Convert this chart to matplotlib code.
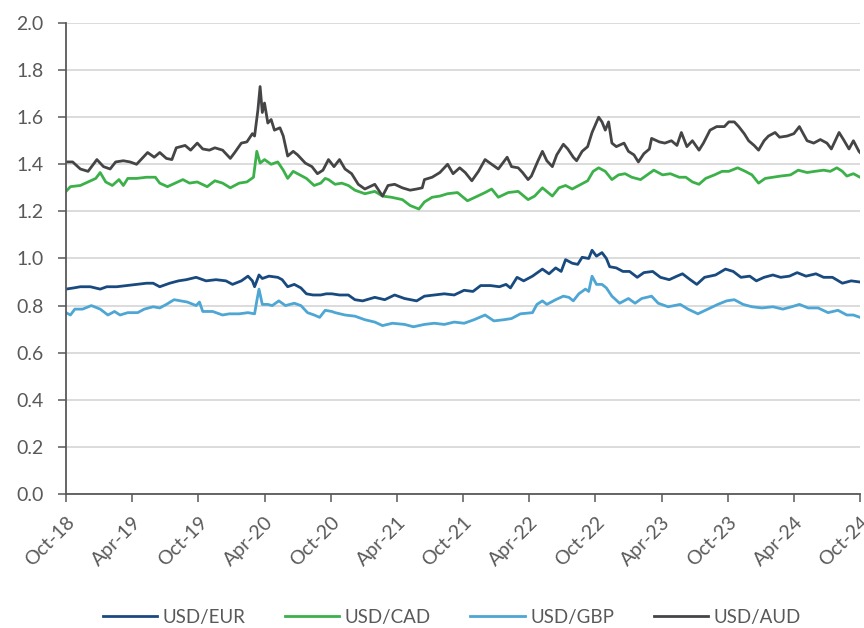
import matplotlib
matplotlib.use("Agg")
import matplotlib.pyplot as plt

plt.rcParams['font.family'] = ['Lato', 'DejaVu Sans']

# x positions: months since Oct-18
tick_labels = ["Oct-18", "Apr-19", "Oct-19", "Apr-20", "Oct-20", "Apr-21", "Oct-21",
               "Apr-22", "Oct-22", "Apr-23", "Oct-23", "Apr-24", "Oct-24"]

eur_t = [0, 0.7, 1.3, 2.2, 3.1, 3.7, 4.6, 5.5, 6.4, 7.3, 7.9, 8.5, 9.4, 10.2, 10.9, 11.8,
         12.7, 13.6, 14.5, 15.1, 15.9, 16.5, 16.9, 17.1, 17.5, 17.8, 18.4, 19.2, 19.6, 20.1,
         20.7, 21.3, 21.8, 22.4, 23.1, 23.6, 24.1, 24.8, 25.6, 26.2, 26.9, 28.0, 28.9, 29.8,
         30.7, 31.8, 32.5, 33.4, 34.3, 35.2, 36.1, 36.9, 37.6, 38.5, 39.3, 39.9, 40.3, 40.9,
         41.5, 42.3, 43.2, 43.8, 44.4, 44.9, 45.3, 45.9, 46.4, 46.8, 47.4, 47.7, 48.1, 48.6,
         49.0, 49.3, 49.9, 50.5, 51.1, 51.8, 52.4, 53.2, 53.9, 54.7, 55.4, 55.9, 56.6, 57.2,
         57.9, 58.9, 59.8, 60.5, 61.2, 62.0, 62.6, 63.3, 64.1, 64.8, 65.6, 66.3, 67.1, 68.0,
         68.7, 69.5, 70.4, 71.2, 72.0]
eur_v = [0.87, 0.875, 0.88, 0.88, 0.87, 0.88, 0.88, 0.885, 0.89, 0.895, 0.895, 0.88, 0.895,
         0.905, 0.91, 0.92, 0.905, 0.91, 0.905, 0.89, 0.905, 0.925, 0.905, 0.88, 0.93, 0.915,
         0.925, 0.92, 0.91, 0.88, 0.89, 0.875, 0.85, 0.845, 0.845, 0.85, 0.85, 0.845, 0.845,
         0.825, 0.82, 0.835, 0.825, 0.845, 0.83, 0.82, 0.84, 0.845, 0.85, 0.845, 0.865, 0.86,
         0.885, 0.885, 0.88, 0.89, 0.875, 0.92, 0.905, 0.925, 0.955, 0.935, 0.96, 0.945, 0.995,
         0.98, 0.975, 1.005, 1.0, 1.035, 1.01, 1.025, 1.0, 0.965, 0.96, 0.945, 0.945, 0.92,
         0.94, 0.945, 0.92, 0.91, 0.925, 0.935, 0.91, 0.89, 0.92, 0.93, 0.955, 0.945, 0.92,
         0.925, 0.905, 0.92, 0.93, 0.92, 0.925, 0.94, 0.925, 0.935, 0.92, 0.92, 0.895, 0.905,
         0.90]

cad_t = [0, 0.4, 1.3, 2.0, 2.7, 3.1, 3.6, 4.2, 4.8, 5.2, 5.6, 6.4, 7.3, 8.1, 8.5, 9.2, 9.9,
         10.6, 11.2, 11.9, 12.8, 13.5, 14.2, 14.9, 15.7, 16.4, 17.0, 17.3, 17.6, 18.0, 18.6,
         19.2, 19.7, 20.1, 20.6, 21.2, 21.8, 22.5, 23.1, 23.5, 23.8, 24.4, 25.0, 25.6, 26.2,
         27.1, 28.0, 28.7, 29.5, 30.5, 31.2, 32.0, 32.5, 33.2, 33.9, 34.6, 35.5, 36.4, 37.1,
         38.0, 38.6, 39.2, 40.1, 41.0, 41.9, 42.5, 43.2, 44.1, 44.7, 45.3, 45.9, 46.7, 47.3,
         47.8, 48.3, 48.9, 49.5, 50.1, 50.7, 51.3, 52.1, 52.7, 53.3, 54.1, 54.8, 55.6, 56.2,
         56.8, 57.4, 58.0, 58.8, 59.5, 60.1, 60.9, 61.6, 62.2, 62.8, 63.4, 64.1, 64.8, 65.7,
         66.4, 67.2, 67.9, 68.7, 69.3, 69.9, 70.4, 70.8, 71.4, 72.0]
cad_v = [1.285, 1.305, 1.31, 1.325, 1.34, 1.365, 1.325, 1.31, 1.335, 1.31, 1.34, 1.34, 1.345,
         1.345, 1.32, 1.305, 1.32, 1.335, 1.32, 1.325, 1.305, 1.33, 1.32, 1.30, 1.32, 1.325,
         1.345, 1.455, 1.405, 1.42, 1.40, 1.41, 1.375, 1.34, 1.37, 1.355, 1.34, 1.31, 1.32,
         1.34, 1.335, 1.315, 1.32, 1.31, 1.29, 1.275, 1.285, 1.265, 1.26, 1.25, 1.225, 1.21,
         1.24, 1.26, 1.265, 1.275, 1.28, 1.245, 1.26, 1.28, 1.295, 1.26, 1.28, 1.285, 1.25,
         1.265, 1.30, 1.265, 1.30, 1.31, 1.295, 1.315, 1.33, 1.37, 1.385, 1.37, 1.335, 1.355,
         1.36, 1.345, 1.335, 1.355, 1.375, 1.355, 1.36, 1.345, 1.345, 1.325, 1.315, 1.34,
         1.355, 1.37, 1.37, 1.385, 1.37, 1.355, 1.32, 1.34, 1.345, 1.35, 1.355, 1.375, 1.365,
         1.37, 1.375, 1.37, 1.385, 1.37, 1.35, 1.36, 1.345]

gbp_t = [0, 0.4, 0.8, 1.5, 2.3, 3.1, 3.8, 4.4, 4.9, 5.6, 6.5, 7.1, 7.9, 8.5, 9.1, 9.8, 10.4,
         11.0, 11.8, 12.1, 12.4, 13.3, 14.2, 14.8, 15.7, 16.5, 17.1, 17.3, 17.5, 17.8, 18.3,
         18.7, 19.3, 19.9, 20.7, 21.3, 21.9, 22.5, 23.0, 23.5, 24.1, 24.4, 25.3, 26.2, 27.1,
         28.0, 28.7, 29.6, 30.7, 31.5, 32.5, 33.4, 34.3, 35.2, 36.1, 37.0, 38.0, 38.8, 39.7,
         40.4, 41.2, 42.3, 42.7, 43.2, 43.6, 44.4, 45.1, 45.6, 46.0, 46.5, 47.1, 47.4, 47.7,
         48.1, 48.6, 49.0, 49.5, 50.2, 51.0, 51.6, 52.2, 53.1, 53.7, 54.6, 55.7, 56.4, 57.3,
         58.2, 59.1, 59.9, 60.6, 61.4, 62.2, 63.1, 64.1, 65.0, 65.8, 66.5, 67.3, 68.2, 69.1,
         70.0, 70.8, 71.4, 72.0]
gbp_v = [0.77, 0.76, 0.785, 0.785, 0.80, 0.785, 0.76, 0.775, 0.76, 0.77, 0.77, 0.785, 0.795,
         0.79, 0.805, 0.825, 0.82, 0.815, 0.80, 0.815, 0.775, 0.775, 0.76, 0.765, 0.765, 0.77,
         0.765, 0.82, 0.87, 0.805, 0.805, 0.80, 0.82, 0.80, 0.81, 0.80, 0.77, 0.76, 0.75, 0.78,
         0.775, 0.77, 0.76, 0.755, 0.74, 0.73, 0.715, 0.725, 0.72, 0.71, 0.72, 0.725, 0.72,
         0.73, 0.725, 0.74, 0.76, 0.735, 0.74, 0.745, 0.765, 0.77, 0.805, 0.82, 0.805, 0.825,
         0.84, 0.835, 0.82, 0.85, 0.87, 0.86, 0.925, 0.89, 0.89, 0.875, 0.84, 0.81, 0.83, 0.81,
         0.83, 0.84, 0.81, 0.795, 0.805, 0.785, 0.765, 0.785, 0.805, 0.82, 0.825, 0.805, 0.795,
         0.79, 0.795, 0.785, 0.795, 0.805, 0.79, 0.79, 0.77, 0.78, 0.76, 0.76, 0.75]

aud_t = [0, 0.6, 1.3, 2.0, 2.8, 3.4, 4.0, 4.5, 5.2, 5.8, 6.4, 6.9, 7.4, 8.0, 8.5, 9.1, 9.6,
         10.0, 10.8, 11.3, 11.9, 12.4, 13.0, 13.5, 14.2, 14.9, 15.3, 15.9, 16.4, 16.9, 17.1,
         17.4, 17.6, 17.8, 18.0, 18.3, 18.6, 18.9, 19.4, 19.7, 20.1, 20.6, 21.0, 21.7, 22.3,
         22.8, 23.3, 23.8, 24.3, 24.8, 25.3, 25.9, 26.5, 27.1, 28.0, 28.7, 29.2, 29.8, 30.5,
         31.2, 31.8, 32.3, 32.5, 33.2, 33.9, 34.6, 35.1, 35.7, 36.2, 36.8, 37.4, 38.0, 38.6,
         39.2, 40.0, 40.4, 41.0, 41.4, 41.9, 42.2, 42.8, 43.2, 43.6, 44.1, 44.5, 45.1, 45.5,
         46.0, 46.3, 46.8, 47.3, 47.7, 48.3, 48.6, 48.9, 49.2, 49.5, 49.9, 50.6, 51.0, 51.5,
         51.9, 52.4, 52.9, 53.1, 53.8, 54.3, 54.9, 55.4, 55.8, 56.3, 56.8, 57.4, 57.8, 58.4,
         59.0, 59.7, 60.1, 60.6, 61.0, 61.5, 61.9, 62.4, 62.8, 63.3, 63.7, 64.3, 64.7, 65.4,
         66.0, 66.5, 67.2, 67.8, 68.4, 69.0, 69.4, 70.1, 70.5, 71.0, 71.4, 71.9, 72.0]
aud_v = [1.41, 1.41, 1.38, 1.37, 1.42, 1.39, 1.38, 1.41, 1.415, 1.41, 1.40, 1.425, 1.45, 1.43,
         1.45, 1.425, 1.42, 1.47, 1.48, 1.46, 1.49, 1.465, 1.46, 1.47, 1.46, 1.425, 1.45, 1.49,
         1.495, 1.53, 1.52, 1.63, 1.73, 1.62, 1.66, 1.575, 1.59, 1.545, 1.555, 1.52, 1.435,
         1.455, 1.44, 1.405, 1.39, 1.36, 1.375, 1.42, 1.39, 1.42, 1.38, 1.36, 1.315, 1.295,
         1.315, 1.265, 1.31, 1.315, 1.30, 1.29, 1.295, 1.30, 1.335, 1.345, 1.365, 1.40, 1.36,
         1.385, 1.365, 1.33, 1.37, 1.42, 1.40, 1.38, 1.43, 1.39, 1.385, 1.365, 1.335, 1.35,
         1.415, 1.455, 1.415, 1.39, 1.44, 1.485, 1.465, 1.43, 1.415, 1.455, 1.475, 1.535, 1.60,
         1.58, 1.545, 1.58, 1.49, 1.475, 1.49, 1.455, 1.44, 1.41, 1.445, 1.465, 1.51, 1.495,
         1.49, 1.50, 1.48, 1.535, 1.475, 1.50, 1.46, 1.49, 1.545, 1.56, 1.56, 1.58, 1.58, 1.56,
         1.53, 1.50, 1.48, 1.46, 1.50, 1.52, 1.535, 1.515, 1.52, 1.53, 1.56, 1.50, 1.49, 1.505,
         1.49, 1.465, 1.535, 1.505, 1.465, 1.50, 1.455, 1.45]

series = [
    ("USD/EUR", eur_t, eur_v, "#194a7f"),
    ("USD/CAD", cad_t, cad_v, "#3cb14a"),
    ("USD/GBP", gbp_t, gbp_v, "#4da6d3"),
    ("USD/AUD", aud_t, aud_v, "#454547"),
]

fig = plt.figure(figsize=(8.64, 6.28), dpi=100)
ax = fig.add_axes([0.0764, 0.2134, 0.919, 0.750])

for name, t, v, c in series:
    ax.plot(t, v, color=c, lw=2.0, label=name, solid_joinstyle='round')

ax.set_xlim(0, 72)
ax.set_ylim(0, 2.0)
ax.set_yticks([i * 0.2 for i in range(11)])
ax.set_yticklabels([f"{i * 0.2:.1f}" for i in range(11)])
ax.set_xticks(list(range(0, 73, 6)))
ax.set_xticklabels(tick_labels, rotation=45, ha='right', rotation_mode='anchor')

ax.grid(axis='y', color='#d9d9d9', lw=1.3)
ax.set_axisbelow(True)
for s in ['top', 'right']:
    ax.spines[s].set_visible(False)
for s in ['left', 'bottom']:
    ax.spines[s].set_color('#595959')
    ax.spines[s].set_linewidth(1.3)
ax.tick_params(axis='both', colors='#595959', labelsize=14, length=6, width=1.1,
               direction='out')
ax.tick_params(axis='x', pad=8)
ax.tick_params(axis='y', pad=10)

ax.legend(loc='center', bbox_to_anchor=(0.523, 0.0175), bbox_transform=fig.transFigure,
          ncol=4, frameon=False, fontsize=13.5, handlelength=2.9, handletextpad=0.3,
          columnspacing=2.1, labelcolor='#595959')

fig.savefig("out.png", dpi=100)
